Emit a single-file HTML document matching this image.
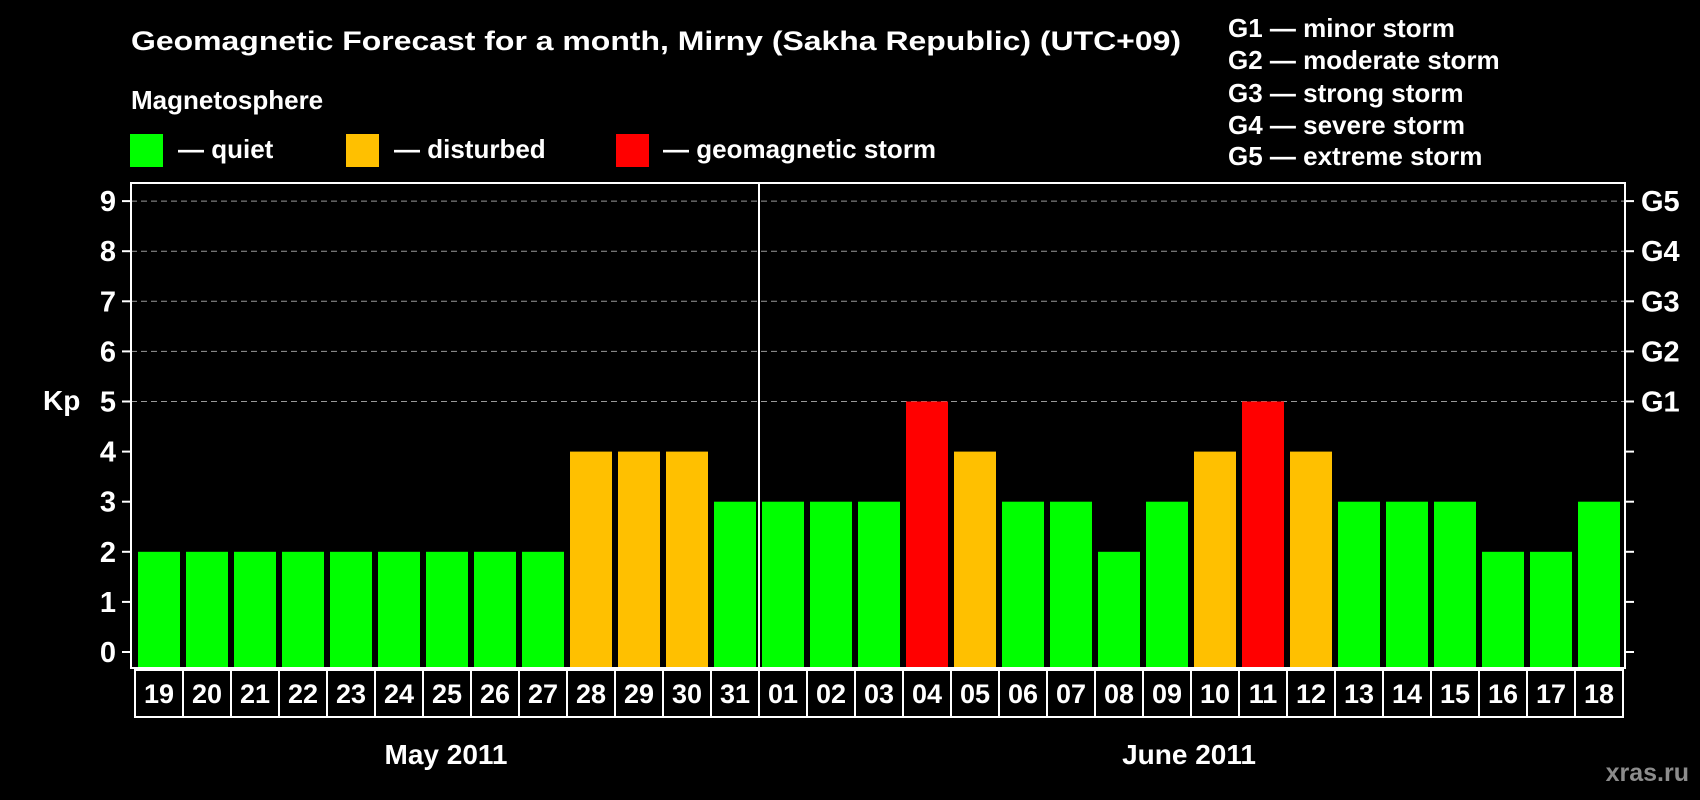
<!DOCTYPE html>
<html><head><meta charset="utf-8"><style>html,body{margin:0;padding:0;background:#000}svg{display:block}text{font-family:"Liberation Sans",Arial,sans-serif;font-weight:bold;fill:#fff}</style></head>
<body>
<svg id="chart" width="1700" height="800" viewBox="0 0 1700 800">
<rect x="0" y="0" width="1700" height="800" fill="#000"/>
<text x="131" y="50" font-size="27" textLength="1050" lengthAdjust="spacingAndGlyphs">Geomagnetic Forecast for a month, Mirny (Sakha Republic) (UTC+09)</text>
<text x="131" y="109" font-size="26">Magnetosphere</text>
<g><rect x="130" y="134" width="33" height="33" fill="#00ff00"/><text x="178" y="158" font-size="26">— quiet</text></g>
<g><rect x="346" y="134" width="33" height="33" fill="#ffc000"/><text x="394" y="158" font-size="26">— disturbed</text></g>
<g><rect x="616" y="134" width="33" height="33" fill="#ff0000"/><text x="663" y="158" font-size="26">— geomagnetic storm</text></g>
<g font-size="26">
<text x="1228" y="37">G1 — minor storm</text>
<text x="1228" y="69">G2 — moderate storm</text>
<text x="1228" y="102">G3 — strong storm</text>
<text x="1228" y="134">G4 — severe storm</text>
<text x="1228" y="165">G5 — extreme storm</text>
</g>
<g id="grid"></g>
<g id="bars"></g>
<rect x="131" y="183" width="1494" height="485" fill="none" stroke="#fff" stroke-width="2"/>
<line x1="759" y1="183" x2="759" y2="668" stroke="#fff" stroke-width="2"/>
<g id="axes"></g>
<g id="dates"></g>
<text x="43" y="410" font-size="28">Kp</text>
<text x="446" y="764" font-size="28" text-anchor="middle">May 2011</text>
<text x="1189" y="764" font-size="28" text-anchor="middle">June 2011</text>
<text x="1689" y="781" font-size="25" text-anchor="end" style="fill:#8c8c8c">xras.ru</text>
</svg>
<script>
const days = ["19","20","21","22","23","24","25","26","27","28","29","30","31","01","02","03","04","05","06","07","08","09","10","11","12","13","14","15","16","17","18"];
const kpValues = [2,2,2,2,2,2,2,2,2,4,4,4,3,3,3,3,5,4,3,3,2,3,4,5,4,3,3,3,2,2,3];
const yTicks = [0,1,2,3,4,5,6,7,8,9];
const gLabels = ["","","","","","G1","G2","G3","G4","G5"];
const NS="http://www.w3.org/2000/svg";
const plotL=131, plotR=1625, plotB=668, y0=652, unit=50.1, pitch=48;
const yScale=v=>y0-v*unit;
const xScale=i=>plotL+7+i*pitch;
function mk(t,a,p){const e=document.createElementNS(NS,t);for(const k in a)e.setAttribute(k,a[k]);p.appendChild(e);return e;}
const color=v=>v>=5?"#ff0000":(v>=4?"#ffc000":"#00ff00");
const grid=document.getElementById('grid'),bars=document.getElementById('bars'),axes=document.getElementById('axes'),dates=document.getElementById('dates');
yTicks.forEach((t,i)=>{
  const y=yScale(t);
  if(t>=5){const g=mk('line',{x1:plotL,x2:plotR,y1:y,y2:y,stroke:'#999','stroke-width':1,'stroke-dasharray':'6,4'},grid);
    
    }
  const l=mk('line',{x1:122,x2:plotL,y1:y,y2:y,stroke:'#fff','stroke-width':2},axes);
  
  
  const r=mk('line',{x1:plotR,x2:1634,y1:y,y2:y,stroke:'#fff','stroke-width':2},axes);
  
  
  const tx=mk('text',{x:116,y:y+10,'font-size':29,'text-anchor':'end'},axes);tx.textContent=t;
  
  
  if(gLabels[i]){const gt=mk('text',{x:1641,y:y+10,'font-size':29},axes);gt.textContent=gLabels[i];
    
    }
});
kpValues.forEach((v,i)=>{
  const b=mk('rect',{x:xScale(i),y:yScale(v),width:42,height:plotB-yScale(v),fill:color(v)},bars);
  
  
});
days.forEach((d,i)=>{
  const x=135+i*pitch;
  const c=mk('rect',{x:x,y:670,width:pitch,height:47,fill:'none',stroke:'#fff','stroke-width':2},dates);
  
  
  const t=mk('text',{x:x+pitch/2,y:703,'font-size':27,'text-anchor':'middle'},dates);t.textContent=d;
  
  
});
</script>
</body></html>
